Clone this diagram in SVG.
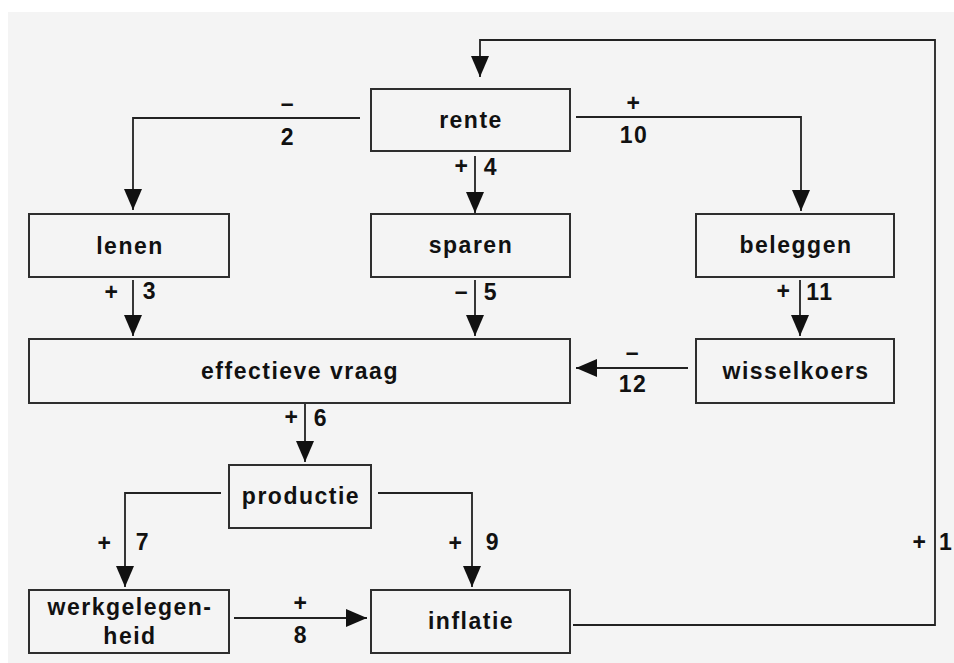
<svg xmlns="http://www.w3.org/2000/svg" width="954" height="663" viewBox="0 0 954 663">
<defs>
<style>
.box{fill:#f4f4f4;stroke:#2e2e2e;stroke-width:2}
.t{font-family:"Liberation Sans",Arial,sans-serif;font-size:23px;font-weight:bold;fill:#111;text-anchor:middle;letter-spacing:1.5px}
.c{fill:none;stroke:#222;stroke-width:1.8}
</style>
<marker id="ah" markerUnits="userSpaceOnUse" markerWidth="21" markerHeight="18" viewBox="0 0 21 18" refX="21" refY="9" orient="auto">
<path d="M0,0 L21,9 L0,18 Z" fill="#111"/>
</marker>
</defs>
<rect x="0" y="0" width="954" height="663" fill="#ffffff"/>
<rect x="8" y="12" width="946" height="651" fill="#f4f4f4"/>

<g id="connectors">
<path class="c" d="M573,625 H935 V40 H480 V77" marker-end="url(#ah)"/>
<path class="c" d="M360,118 H133 V210" marker-end="url(#ah)"/>
<path class="c" d="M576,117 H801 V211" marker-end="url(#ah)"/>
<path class="c" d="M475,156 V213" marker-end="url(#ah)"/>
<path class="c" d="M133,280 V336" marker-end="url(#ah)"/>
<path class="c" d="M475,280 V336" marker-end="url(#ah)"/>
<path class="c" d="M800,280 V336" marker-end="url(#ah)"/>
<path class="c" d="M688,368 H576" marker-end="url(#ah)"/>
<path class="c" d="M305,404 V462" marker-end="url(#ah)"/>
<path class="c" d="M221,493 H125 V587" marker-end="url(#ah)"/>
<path class="c" d="M378,493 H472 V587" marker-end="url(#ah)"/>
<path class="c" d="M234,618 H367" marker-end="url(#ah)"/>
<g class="t">
<text x="288" y="111">–</text><text x="288" y="145">2</text>
<text x="634" y="111">+</text><text x="634" y="143">10</text>
<text x="462" y="174">+</text><text x="491" y="175">4</text>
<text x="112" y="300">+</text><text x="150" y="299">3</text>
<text x="462" y="299">–</text><text x="491" y="300">5</text>
<text x="784" y="299">+</text><text x="820" y="300">11</text>
<text x="633" y="360">–</text><text x="633" y="392">12</text>
<text x="292" y="425">+</text><text x="321" y="426">6</text>
<text x="105" y="551">+</text><text x="143" y="550">7</text>
<text x="456" y="551">+</text><text x="493" y="550">9</text>
<text x="301" y="611">+</text><text x="301" y="643">8</text>
<text x="920" y="550">+</text><text x="939" y="550" style="text-anchor:start">1</text>
</g>
</g>

<g id="rente"><rect class="box" x="371" y="89" width="199" height="62"/><text class="t" x="471" y="128">rente</text></g>
<g id="lenen"><rect class="box" x="29" y="214" width="200" height="63"/><text class="t" x="130" y="254">lenen</text></g>
<g id="sparen"><rect class="box" x="371" y="214" width="199" height="63"/><text class="t" x="471" y="253">sparen</text></g>
<g id="beleggen"><rect class="box" x="696" y="214" width="198" height="63"/><text class="t" x="796" y="253">beleggen</text></g>
<g id="effectieve-vraag"><rect class="box" x="29" y="339" width="541" height="64"/><text class="t" x="300" y="379">effectieve vraag</text></g>
<g id="wisselkoers"><rect class="box" x="696" y="339" width="198" height="64"/><text class="t" x="796" y="379">wisselkoers</text></g>
<g id="productie"><rect class="box" x="229" y="465" width="142" height="63"/><text class="t" x="301" y="504">productie</text></g>
<g id="werkgelegenheid"><rect class="box" x="29" y="590" width="200" height="63"/><text class="t" x="130" y="615">werkgelegen-</text><text class="t" x="130" y="644">heid</text></g>
<g id="inflatie"><rect class="box" x="371" y="590" width="199" height="63"/><text class="t" x="471" y="629">inflatie</text></g>
</svg>
